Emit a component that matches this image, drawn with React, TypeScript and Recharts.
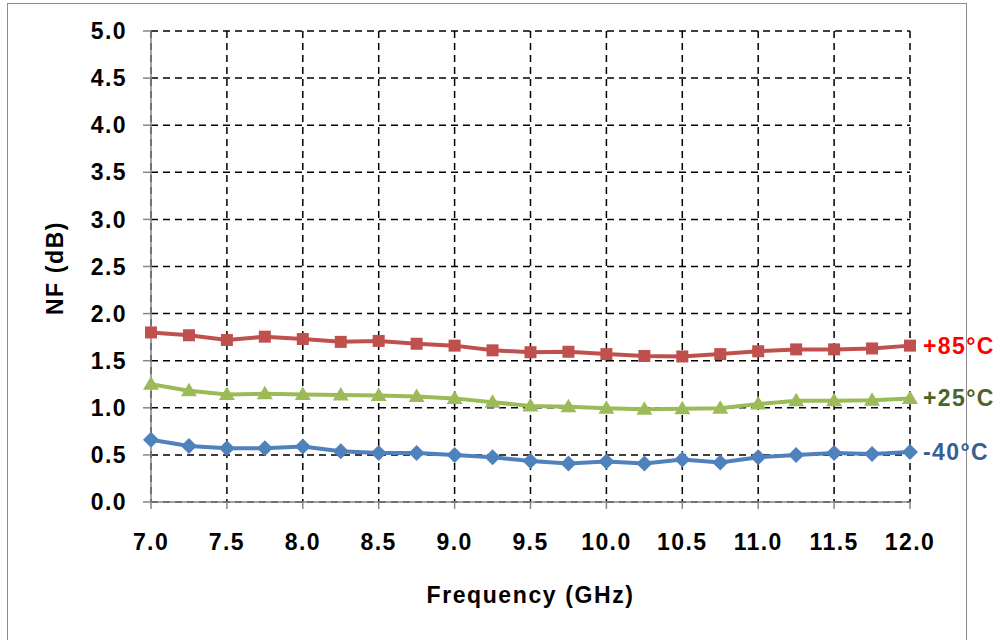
import React from "react";
import {
  LineChart,
  Line,
  XAxis,
  YAxis,
  CartesianGrid,
  Label,
} from "recharts";

const freq = [7.0, 7.25, 7.5, 7.75, 8.0, 8.25, 8.5, 8.75, 9.0, 9.25, 9.5, 9.75, 10.0, 10.25, 10.5, 10.75, 11.0, 11.25, 11.5, 11.75, 12.0];
const nfHot = [1.8, 1.77, 1.72, 1.755, 1.73, 1.7, 1.71, 1.68, 1.66, 1.61, 1.59, 1.595, 1.57, 1.55, 1.545, 1.57, 1.6, 1.62, 1.62, 1.63, 1.66];
const nfRoom = [1.25, 1.18, 1.14, 1.15, 1.14, 1.135, 1.13, 1.12, 1.1, 1.06, 1.02, 1.01, 0.995, 0.985, 0.99, 0.995, 1.04, 1.075, 1.075, 1.08, 1.1];
const nfCold = [0.66, 0.595, 0.57, 0.57, 0.59, 0.54, 0.52, 0.52, 0.5, 0.475, 0.435, 0.41, 0.43, 0.41, 0.45, 0.42, 0.475, 0.5, 0.52, 0.51, 0.53];

const xTicks = [7, 7.5, 8, 8.5, 9, 9.5, 10, 10.5, 11, 11.5, 12];
const yTicks = [0, 0.5, 1, 1.5, 2, 2.5, 3, 3.5, 4, 4.5, 5];

const data = freq.map((f, i) => ({ f, hot: nfHot[i], room: nfRoom[i], cold: nfCold[i] }));

const font = "'Liberation Sans', Arial, sans-serif";
const tickStyle = { fontFamily: font, fontWeight: 700, fontSize: 23, fill: "#000", letterSpacing: 1.4 };
const titleStyle = { fontFamily: font, fontWeight: 700, fontSize: 23, fill: "#000", letterSpacing: 1.6 };

const squareDot = (p: any) => (
  <rect key={p.index} x={p.cx - 6} y={p.cy - 6} width={12} height={12} fill="#C0504D" />
);
const triangleDot = (p: any) => (
  <polygon
    key={p.index}
    points={`${p.cx},${p.cy - 8} ${p.cx + 8},${p.cy + 5.5} ${p.cx - 8},${p.cy + 5.5}`}
    fill="#9BBB59"
  />
);
const diamondDot = (p: any) => (
  <polygon
    key={p.index}
    points={`${p.cx},${p.cy - 8} ${p.cx + 8},${p.cy} ${p.cx},${p.cy + 8} ${p.cx - 8},${p.cy}`}
    fill="#4F81BD"
  />
);

const endLabel = (text: string, color: string) => (p: any) =>
  p.index === freq.length - 1 ? (
    <text
      key="end"
      x={p.x + 13}
      y={p.y + 8}
      fill={color}
      style={{ fontFamily: font, fontWeight: 700, fontSize: 23, letterSpacing: 1.4 }}
    >
      {text}
    </text>
  ) : null;

export default function App() {
  return (
    <div style={{ position: "absolute", left: 0, top: 0, width: 1002, height: 640, overflow: "hidden", background: "#fff" }}>
      <div
        style={{
          position: "absolute",
          left: 7,
          top: 3,
          width: 958,
          height: 700,
          border: "1.5px solid #8c8c8c",
        }}
      />
      <div style={{ position: "absolute", left: 0, top: 0 }}>
        <LineChart width={1002} height={640} data={data} margin={{ top: 31, right: 92, bottom: 28, left: 0 }}>
          <CartesianGrid stroke="#000" strokeWidth={1.5} strokeDasharray="7 5" />
          <XAxis
            dataKey="f"
            type="number"
            domain={[7, 12]}
            ticks={xTicks}
            tickFormatter={(v: number) => v.toFixed(1)}
            height={110}
            tickSize={7}
            tickMargin={25}
            stroke="#868686"
            strokeWidth={1.5}
            tick={tickStyle}
            interval={0}
          >
            <Label value="Frequency (GHz)" position="insideBottom" offset={9} style={titleStyle} />
          </XAxis>
          <YAxis
            type="number"
            domain={[0, 5]}
            ticks={yTicks}
            tickFormatter={(v: number) => v.toFixed(1)}
            width={151}
            tickSize={8}
            tickMargin={16}
            stroke="#868686"
            strokeWidth={1.5}
            tick={tickStyle}
            interval={0}
          >
            <Label
              content={() => (
                <text
                  x={0}
                  y={0}
                  transform="translate(63 268) rotate(-90)"
                  textAnchor="middle"
                  style={titleStyle}
                >
                  NF (dB)
                </text>
              )}
            />
          </YAxis>
          <Line
            dataKey="hot"
            stroke="#C0504D"
            strokeWidth={4}
            dot={squareDot}
            activeDot={false}
            isAnimationActive={false}
            label={endLabel("+85°C", "#FF0000")}
          />
          <Line
            dataKey="room"
            stroke="#9BBB59"
            strokeWidth={4}
            dot={triangleDot}
            activeDot={false}
            isAnimationActive={false}
            label={endLabel("+25°C", "#4F6228")}
          />
          <Line
            dataKey="cold"
            stroke="#4F81BD"
            strokeWidth={4}
            dot={diamondDot}
            activeDot={false}
            isAnimationActive={false}
            label={endLabel("-40°C", "#376092")}
          />
        </LineChart>
      </div>
    </div>
  );
}
